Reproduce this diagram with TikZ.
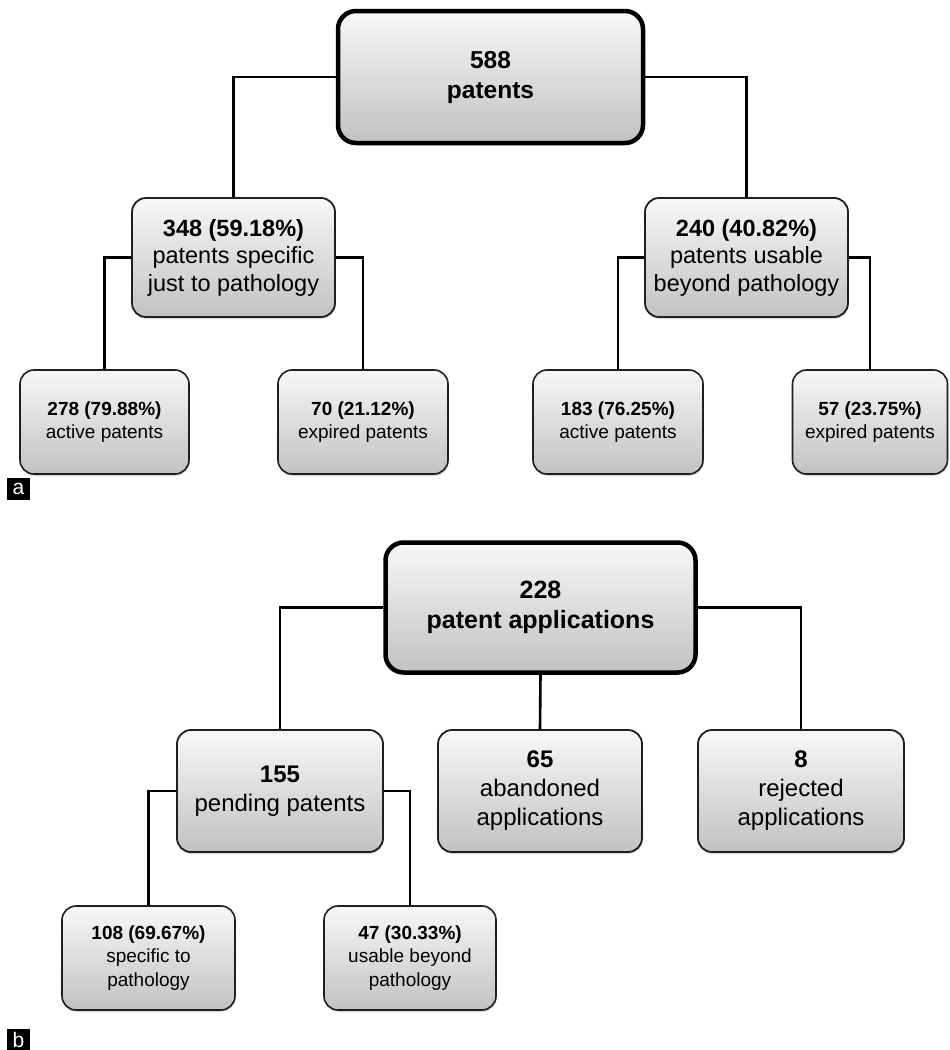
\documentclass[tikz,border=0pt]{standalone}
\usepackage{fontspec}
\setmainfont{Liberation Sans}
\usetikzlibrary{shadows}
\begin{document}
\begin{tikzpicture}[x=1pt,y=-1pt,
  boxbase/.style={draw=black!88, rounded corners=14pt, top color=gray!6, bottom color=gray!48,
    align=center, inner sep=0pt,
    drop shadow={shadow xshift=0.6pt, shadow yshift=-2pt, opacity=0.3}},
  rootbox/.style={boxbase, line width=4.5pt, draw=black, rounded corners=18pt,
    font=\fontsize{24.5}{30}\selectfont\bfseries},
  midbox/.style={boxbase, line width=1.8pt, font=\fontsize{23.5}{27.5}\selectfont},
  qbox/.style={boxbase, line width=1.8pt, font=\fontsize{24}{29}\selectfont},
  leafbox/.style={boxbase, line width=1.6pt, font=\fontsize{19}{23.5}\selectfont},
  link/.style={line width=2.6pt, draw=black},
  panel/.style={fill=black, text=white, inner sep=0pt, minimum width=23pt,
    minimum height=22pt, font=\fontsize{21}{21}\selectfont}
]
\useasboundingbox (0,0) rectangle (950,1050);

% ---------- panel a ----------
\node[rootbox, minimum width=305pt, minimum height=132pt] (T) at (490.5,77)
  {588\\patents};
\node[midbox, minimum width=203pt, minimum height=119pt] (A1) at (233.5,257.5)
  {\textbf{348 (59.18\%)}\\patents specific\\just to pathology};
\node[midbox, minimum width=203pt, minimum height=119pt] (A2) at (746.5,257.5)
  {\textbf{240 (40.82\%)}\\patents usable\\beyond pathology};
\node[leafbox, minimum width=169pt, minimum height=104pt] (B1) at (104.5,422)
  {\textbf{278 (79.88\%)}\\active patents};
\node[leafbox, minimum width=170pt, minimum height=104pt] (B2) at (363,422)
  {\textbf{70 (21.12\%)}\\expired patents};
\node[leafbox, minimum width=170pt, minimum height=104pt] (B3) at (618,422)
  {\textbf{183 (76.25\%)}\\active patents};
\node[leafbox, minimum width=155pt, minimum height=104pt] (B4) at (870,422)
  {\textbf{57 (23.75\%)}\\expired patents};

\draw[link] (T.west) -| (A1.north);
\draw[link] (T.east) -| (A2.north);
\draw[link] (A1.west) -| (B1.north);
\draw[link] (A1.east) -| (B2.north);
\draw[link] (A2.west) -| (B3.north);
\draw[link] (A2.east) -| (B4.north);

\node[panel] (la) at (18.5,489) {a};

% ---------- panel b ----------
\node[rootbox, minimum width=310pt, minimum height=130pt, font=\fontsize{25}{30}\selectfont\bfseries]
  (P) at (540.5,607.5) {228\\patent applications};
\node[qbox, minimum width=206pt, minimum height=122pt] (Q1) at (280,791)
  {\textbf{155}\\pending patents};
\node[qbox, minimum width=204pt, minimum height=122pt] (Q2) at (540,791)
  {\textbf{65}\\abandoned\\applications};
\node[qbox, minimum width=206pt, minimum height=122pt] (Q3) at (801,791)
  {\textbf{8}\\rejected\\applications};
\node[leafbox, minimum width=173pt, minimum height=104pt] (R1) at (148.5,958)
  {\textbf{108 (69.67\%)}\\specific to\\pathology};
\node[leafbox, minimum width=172pt, minimum height=104pt] (R2) at (410,958)
  {\textbf{47 (30.33\%)}\\usable beyond\\pathology};

\draw[link] (P.west) -| (Q1.north);
\draw[link] (P.east) -| (Q3.north);
\draw[link] (P.south) -- (Q2.north);
\draw[link] (Q1.west) -| (R1.north);
\draw[link] (Q1.east) -| (R2.north);

\node[panel, minimum height=21pt] (lb) at (18.5,1039.5) {b};
\end{tikzpicture}
\end{document}
